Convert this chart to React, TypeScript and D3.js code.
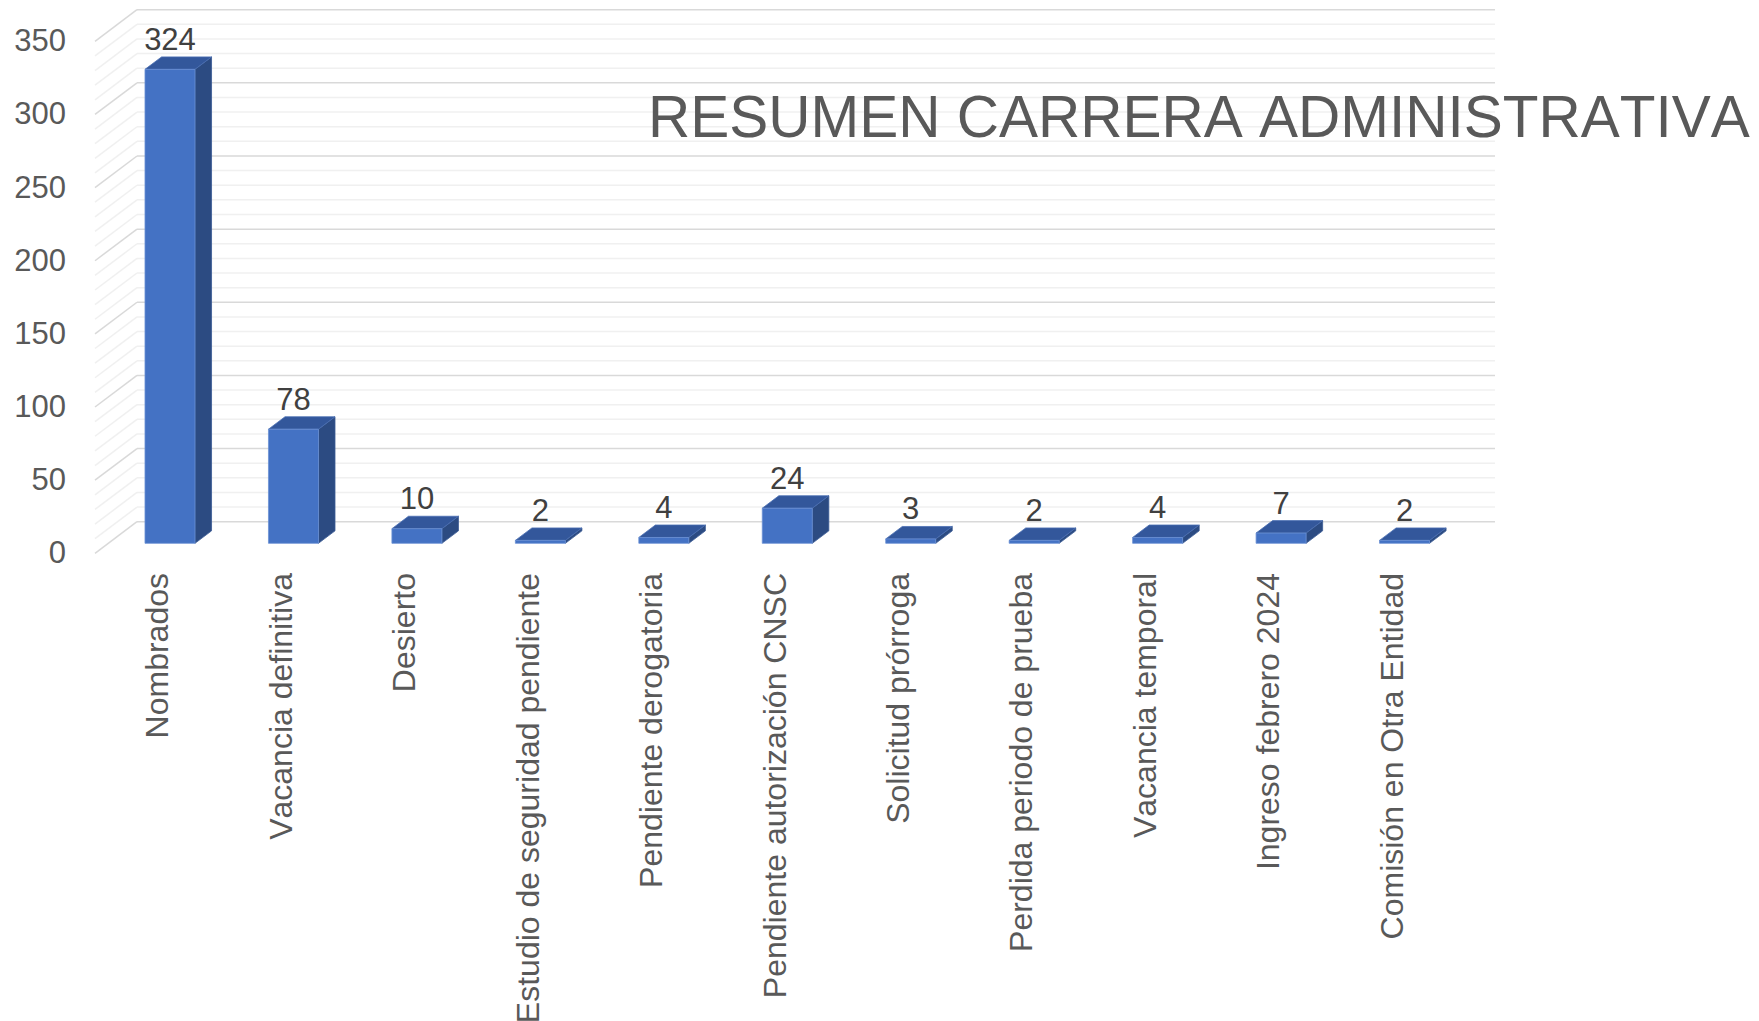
import React from "react";
import * as d3 from "d3";

const categories = [
  "Nombrados",
  "Vacancia definitiva",
  "Desierto",
  "Estudio de seguridad pendiente",
  "Pendiente derogatoria",
  "Pendiente autorización CNSC",
  "Solicitud prórroga",
  "Perdida periodo de prueba",
  "Vacancia temporal",
  "Ingreso febrero 2024",
  "Comisión en Otra Entidad",
];
const values = [324, 78, 10, 2, 4, 24, 3, 2, 4, 7, 2];
const yTicks = [0, 50, 100, 150, 200, 250, 300, 350];
const minorTicks = d3.range(0, 351, 10);
const title = "RESUMEN CARRERA ADMINISTRATIVA";

const W = 1759;
const H = 1021;
const DEPTH_X = 42;
const DEPTH_Y = -31.6;
const BAR_F1 = 0.316;
const BAR_F2 = 0.71;
const FONT = "'Liberation Sans', Arial, sans-serif";

export default function App() {
  const x = d3
    .scaleBand<string>()
    .domain(categories)
    .range([95, 1453])
    .paddingInner(0.595)
    .paddingOuter(0.2975);
  const y = d3.scaleLinear().domain([0, 350]).range([553.3, 41.3]);
  const bw = x.bandwidth();

  const backX0 = 95 + DEPTH_X;
  const backX1 = 1453 + DEPTH_X;

  const isMajor = (v: number) => v % 50 === 0;

  return (
    <svg
      width={W}
      height={H}
      style={{ position: "absolute", left: 0, top: 0, background: "#fff", fontKerning: "none" }}
      fontFamily={FONT}
    >
      <rect x={0} y={0} width={W} height={H} fill="#fff" />
      {[false, true].map((major) =>
        minorTicks
          .filter((v) => isMajor(v) === major)
          .map((v) => {
            const yf = y(v);
            const yb = yf + DEPTH_Y;
            const col = major ? "#d9d9d9" : "#f0f0f0";
            return (
              <g key={`g${v}`}>
                <line x1={95} y1={yf} x2={backX0} y2={yb} stroke={col} strokeWidth={1.5} />
                <line x1={backX0} y1={yb} x2={backX1} y2={yb} stroke={col} strokeWidth={1.5} />
              </g>
            );
          })
      )}
      {yTicks.map((v) => (
        <text
          key={`t${v}`}
          x={66}
          y={y(v) + 10}
          textAnchor="end"
          fontSize={31}
          fill="#595959"
        >
          {v}
        </text>
      ))}
      {categories.map((c, i) => {
        const v = values[i];
        const fx0 = (x(c) as number) + BAR_F1 * DEPTH_X;
        const fx1 = fx0 + bw;
        const fyTop = y(v) + BAR_F1 * DEPTH_Y;
        const fyBot = y(0) + BAR_F1 * DEPTH_Y;
        const ddx = (BAR_F2 - BAR_F1) * DEPTH_X;
        const ddy = (BAR_F2 - BAR_F1) * DEPTH_Y;
        const front = `M${fx0},${fyTop}L${fx1},${fyTop}L${fx1},${fyBot}L${fx0},${fyBot}Z`;
        const top = `M${fx0},${fyTop}L${fx0 + ddx},${fyTop + ddy}L${fx1 + ddx},${fyTop + ddy}L${fx1},${fyTop}Z`;
        const side = `M${fx1},${fyTop}L${fx1 + ddx},${fyTop + ddy}L${fx1 + ddx},${fyBot + ddy}L${fx1},${fyBot}Z`;
        return (
          <g key={`b${i}`}>
            <path d={side} fill="#2c4b82" stroke="#3a5a94" strokeWidth={0.8} />
            <path d={top} fill="#33579b" stroke="#4a6fb3" strokeWidth={0.8} />
            <path d={front} fill="#4472c4" stroke="#6b90d4" strokeWidth={0.8} />
            <text
              x={fx0 + bw / 2}
              y={fyTop - 19.5}
              textAnchor="middle"
              fontSize={31}
              fill="#404040"
            >
              {v}
            </text>
          </g>
        );
      })}
      {categories.map((c) => {
        const cx = (x(c) as number) + bw / 2;
        return (
          <text
            key={`c${c}`}
            transform={`translate(${cx},573) rotate(-90)`}
            textAnchor="end"
            dy="0.36em"
            fontSize={32}
            fill="#595959"
          >
            {c}
          </text>
        );
      })}
      <text x={648} y={137} fontSize={58.5} fill="#595959">
        {title}
      </text>
    </svg>
  );
}
